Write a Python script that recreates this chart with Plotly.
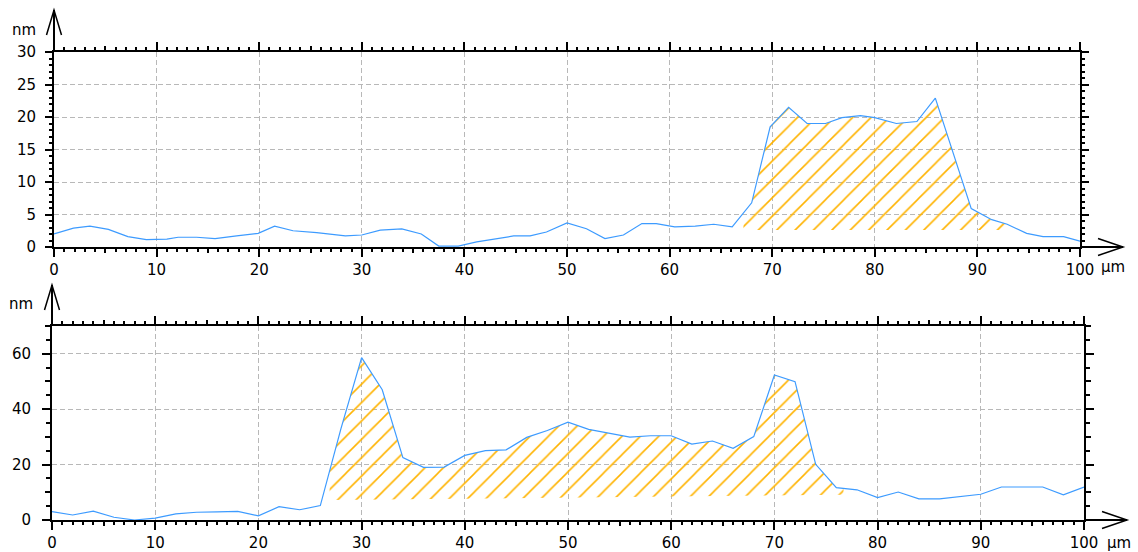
import numpy as np
import plotly.graph_objects as go

W, H = 1138, 552

# ---------------- data ----------------
top_x = [0, 1.9, 3.5, 5.3, 7.2, 9.0, 11.0, 12.1, 13.9, 15.7, 17.8, 19.9, 21.5, 23.3,
         25.6, 28.4, 30.0, 31.8, 33.9, 35.8, 37.5, 39.4, 41.2, 43.0, 44.8, 46.4, 48.0,
         50.0, 51.9, 53.7, 55.5, 57.3, 58.7, 60.5, 62.5, 64.3, 66.1, 68.0, 69.8, 71.6,
         73.4, 75.2, 76.8, 78.6, 80.0, 82.1, 84.1, 85.9, 89.4, 91.4, 92.9, 94.8, 96.4,
         98.4, 100.0]
top_nm = [2.0, 2.9, 3.2, 2.7, 1.6, 1.15, 1.2, 1.5, 1.5, 1.3, 1.7, 2.1, 3.2, 2.5,
          2.2, 1.7, 1.85, 2.6, 2.8, 2.0, 0.15, 0.15, 0.8, 1.2, 1.7, 1.7, 2.3,
          3.7, 2.8, 1.3, 1.85, 3.6, 3.6, 3.1, 3.2, 3.5, 3.1, 6.8, 18.5, 21.5,
          19.0, 19.0, 19.9, 20.2, 19.9, 19.0, 19.3, 22.9, 5.9, 4.2, 3.5, 2.1, 1.6,
          1.6, 0.9]

bot_x = [0, 2, 4, 6, 8, 10, 12, 14, 16, 18, 20, 22, 24, 26, 28, 30, 32, 34, 36, 38,
         40, 42, 44, 46, 48, 50, 52, 54, 56, 58, 60, 62, 64, 66, 68, 70, 72, 74, 76,
         78, 80, 82, 84, 86, 88, 90, 92, 94, 96, 98, 100]
bot_nm = [3.0, 1.8, 3.2, 1.0, 0.0, 0.7, 2.2, 2.8, 2.9, 3.1, 1.5, 4.8, 3.7, 5.2, 33.0,
          58.6, 47.0, 22.5, 19.0, 19.1, 23.3, 25.0, 25.3, 29.8, 32.3, 35.3, 32.7, 31.3,
          29.9, 30.4, 30.4, 27.4, 28.5, 25.9, 30.1, 52.3, 49.9, 20.1, 11.7, 10.9, 8.1,
          10.1, 7.6, 7.6, 8.5, 9.3, 11.9, 11.9, 11.9, 9.1, 11.9]

# hatched step regions: [x start, x end, base at start, base at end]
top_region = [67.2, 92.9, 2.6, 2.6]
bot_region = [26.9, 76.7, 7.2, 9.1]

top_yrange = [0, 30]
bot_yrange = [0, 70]
x_range = [0, 100]

LINE_COLOR = "#3d9bff"
HATCH_COLOR = "#FFB300"
GRID_COLOR = "#b8b8b8"
FONT = dict(family="DejaVu Sans", size=15, color="black")

# ---------------- layout geometry (pixels) ----------------
top_px = dict(x0=54, x1=1080, y0=52, y1=247)
bot_px = dict(x0=52, x1=1084, y0=326, y1=520)


def xd(p):
    return [p["x0"] / W, p["x1"] / W]


def yd(p):
    return [1 - p["y1"] / H, 1 - p["y0"] / H]


def hatch_polygon(x, y, region):
    x0, x1, b0, b1 = region
    xs = np.array(x, dtype=float)
    ys = np.array(y, dtype=float)
    inner = (xs > x0) & (xs < x1)
    cx = [x0] + list(xs[inner]) + [x1]
    cy = [float(np.interp(x0, xs, ys))] + list(ys[inner]) + [float(np.interp(x1, xs, ys))]
    px = cx + [x1, x0, x0]
    py = cy + [b1, b0, cy[0]]
    return px, py


fig = go.Figure()

for (xs, ys, reg, xa, ya) in [(top_x, top_nm, top_region, "x", "y"),
                               (bot_x, bot_nm, bot_region, "x2", "y2")]:
    hx, hy = hatch_polygon(xs, ys, reg)
    fig.add_trace(go.Scatter(
        x=hx, y=hy, mode="lines", line=dict(width=0, color="rgba(0,0,0,0)"),
        fill="toself", fillcolor="rgba(0,0,0,0)",
        fillpattern=dict(shape="/", fgcolor=HATCH_COLOR, bgcolor="rgba(0,0,0,0)",
                         size=13, solidity=0.12, fgopacity=1),
        xaxis=xa, yaxis=ya, showlegend=False, hoverinfo="skip"))
    fig.add_trace(go.Scatter(
        x=xs, y=ys, mode="lines", line=dict(color=LINE_COLOR, width=1.2),
        xaxis=xa, yaxis=ya, showlegend=False))

# dummy traces so overlay tick axes render
fig.add_trace(go.Scatter(x=[None], y=[None], xaxis="x3", yaxis="y", showlegend=False))
fig.add_trace(go.Scatter(x=[None], y=[None], xaxis="x4", yaxis="y2", showlegend=False))
fig.add_trace(go.Scatter(x=[None], y=[None], xaxis="x2", yaxis="y3", showlegend=False))

common_axis = dict(showline=True, linecolor="black", linewidth=2, mirror="ticks",
                   ticks="outside", tickcolor="black", tickwidth=2, automargin=False,
                   showgrid=True, gridcolor=GRID_COLOR, gridwidth=1.4, griddash="5px,3px",
                   zeroline=False, tickfont=FONT)

xcommon = dict(common_axis, range=x_range, tick0=0, dtick=10, ticklen=8,
               minor=dict(dtick=1, tick0=0, ticklen=3, ticks="outside", tickcolor="black",
                          tickwidth=2, showgrid=False))

mid_ticks = dict(range=x_range, tickvals=[5, 15, 25, 35, 45, 55, 65, 75, 85, 95],
                 ticks="outside", ticklen=5, tickwidth=2, tickcolor="black", automargin=False,
                 mirror="ticks", showline=False, showticklabels=False, showgrid=False,
                 zeroline=False)

fig.update_layout(
    width=W, height=H, margin=dict(l=0, r=0, t=0, b=0, autoexpand=False),
    paper_bgcolor="white", plot_bgcolor="white", showlegend=False,
    xaxis=dict(xcommon, domain=xd(top_px), anchor="y"),
    yaxis=dict(common_axis, domain=yd(top_px), anchor="x", range=top_yrange,
               tick0=0, dtick=5, ticklen=7, ticklabelstandoff=6,
               minor=dict(dtick=1, tick0=0, ticklen=3, ticks="outside", tickcolor="black",
                          tickwidth=2, showgrid=False)),
    xaxis2=dict(xcommon, domain=xd(bot_px), anchor="y2"),
    yaxis2=dict(common_axis, domain=yd(bot_px), anchor="x2", range=bot_yrange,
                tick0=0, dtick=20, ticklen=8, ticklabelstandoff=8,
                minor=dict(dtick=5, tick0=0, ticklen=4, ticks="outside", tickcolor="black",
                           tickwidth=2, showgrid=False)),
    xaxis3=dict(mid_ticks, overlaying="x", anchor="y"),
    xaxis4=dict(mid_ticks, overlaying="x2", anchor="y2"),
    yaxis3=dict(range=bot_yrange, tickvals=[10, 30, 50, 70], ticks="outside", ticklen=6,
                tickwidth=2, tickcolor="black", mirror="ticks", showline=False,
                automargin=False, showticklabels=False, showgrid=False, zeroline=False,
                overlaying="y2", anchor="x2"),
)


def P(xp, yp):
    return xp / W, 1 - yp / H


def seg(a, b, w=2):
    (x0, y0), (x1, y1) = P(*a), P(*b)
    return dict(type="line", xref="paper", yref="paper", x0=x0, y0=y0, x1=x1, y1=y1,
                line=dict(color="black", width=w))


def chevron(a, tip, b):
    pts = [P(*a), P(*tip), P(*b)]
    path = "M{:.5f},{:.5f} L{:.5f},{:.5f} L{:.5f},{:.5f}".format(
        pts[0][0], pts[0][1], pts[1][0], pts[1][1], pts[2][0], pts[2][1])
    return dict(type="path", xref="paper", yref="paper", path=path,
                line=dict(color="black", width=1.5))


shapes = []
for p in (top_px, bot_px):
    # y-axis arrow
    ytip = p["y0"] - 42 if p is top_px else p["y0"] - 41
    shapes.append(seg((p["x0"], p["y0"]), (p["x0"], ytip)))
    shapes.append(chevron((p["x0"] - 7.5, ytip + 25), (p["x0"], ytip), (p["x0"] + 7.5, ytip + 25)))
    # x-axis arrow
    xtip = p["x1"] + 43
    shapes.append(seg((p["x1"], p["y1"]), (xtip, p["y1"])))
    shapes.append(chevron((xtip - 25, p["y1"] - 8.5), (xtip, p["y1"]), (xtip - 25, p["y1"] + 8.5)))
fig.update_layout(shapes=shapes)

annots = []
for (xp, yp, t) in [(24, 30, "nm"), (21, 304, "nm"), (1113, 267, "µm"), (1119, 543, "µm")]:
    ax, ay = P(xp, yp)
    annots.append(dict(x=ax, y=ay, xref="paper", yref="paper", text=t, showarrow=False,
                       font=FONT, xanchor="center", yanchor="middle"))
fig.update_layout(annotations=annots)

fig.write_html("out.html", config={"displayModeBar": False},
               post_script="document.body.style.margin='0';document.body.style.overflow='hidden';")
